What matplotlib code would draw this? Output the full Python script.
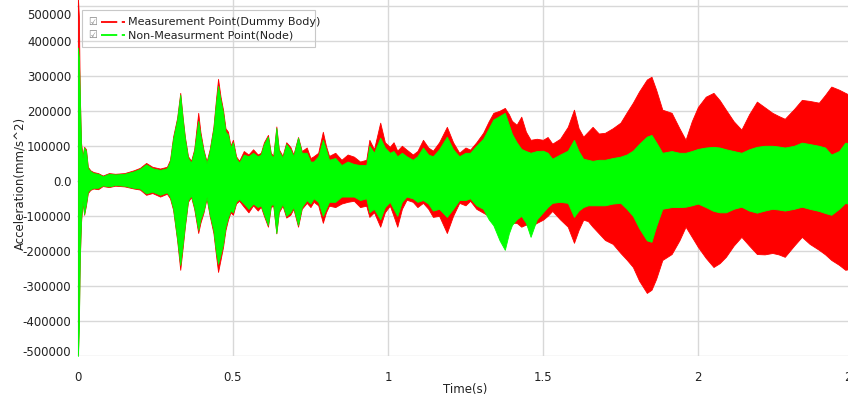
import matplotlib
matplotlib.use("Agg")
import matplotlib.pyplot as plt
import matplotlib.transforms as mtrans
from matplotlib.lines import Line2D
from matplotlib.patches import Rectangle
from matplotlib.ticker import FuncFormatter
import numpy as np

# envelope of the two acceleration traces (1000 mm/s^2)
t_env = [0.000, 0.003, 0.006, 0.010, 0.015, 0.020, 0.026, 0.032, 0.040, 0.050,
         0.065, 0.080, 0.100, 0.120, 0.150, 0.180, 0.200, 0.220, 0.240, 0.265,
         0.287, 0.297, 0.307, 0.320, 0.330, 0.338, 0.345, 0.355, 0.365, 0.375,
         0.388, 0.395, 0.405, 0.415, 0.425, 0.437, 0.445, 0.452, 0.460, 0.468,
         0.476, 0.484, 0.492, 0.500, 0.510, 0.520, 0.535, 0.550, 0.565, 0.580,
         0.590, 0.600, 0.613, 0.622, 0.630, 0.640, 0.648, 0.660, 0.672, 0.685,
         0.695, 0.710, 0.722, 0.738, 0.750, 0.760, 0.775, 0.790, 0.800, 0.810,
         0.830, 0.850, 0.870, 0.890, 0.910, 0.930, 0.940, 0.955, 0.975, 0.990,
         1.006, 1.018, 1.030, 1.045, 1.060, 1.080, 1.095, 1.113, 1.130, 1.145,
         1.165, 1.190, 1.210, 1.230, 1.250, 1.265, 1.285, 1.307, 1.325, 1.340,
         1.360, 1.377, 1.390, 1.400, 1.415, 1.430, 1.445, 1.460, 1.480, 1.500,
         1.515, 1.530, 1.555, 1.580, 1.600, 1.615, 1.630, 1.645, 1.660, 1.680,
         1.700, 1.725, 1.750, 1.770, 1.790, 1.810, 1.835, 1.850, 1.865, 1.885,
         1.915, 1.940, 1.960, 1.980, 2.000, 2.025, 2.050, 2.070, 2.090, 2.115,
         2.140, 2.165, 2.190, 2.215, 2.240, 2.260, 2.280, 2.310, 2.335, 2.360,
         2.390, 2.410, 2.430, 2.455, 2.475, 2.500]

meas_upper = [520, 470, 250, 110, 70, 97, 90, 40, 30, 25,
              22, 15, 22, 20, 22, 30, 37, 51, 40, 35,
              40, 60, 126, 180, 251, 180, 126, 70, 57, 90,
              194, 140, 89, 55, 90, 154, 230, 291, 240, 203,
              150, 140, 100, 117, 70, 57, 85, 75, 90, 75,
              80, 110, 131, 80, 71, 155, 90, 71, 110, 97,
              75, 125, 85, 95, 65, 70, 80, 140, 100, 71,
              80, 60, 75, 69, 55, 60, 117, 90, 166, 110,
              97, 110, 86, 100, 89, 75, 85, 117, 95, 86,
              110, 154, 110, 80, 95, 89, 110, 137, 170, 194,
              200, 208, 190, 171, 160, 183, 140, 117, 120, 117,
              125, 106, 120, 154, 203, 150, 126, 140, 154, 135,
              137, 150, 166, 195, 223, 255, 289, 297, 260, 203,
              194, 150, 117, 170, 211, 240, 251, 230, 203, 170,
              146, 190, 226, 210, 194, 185, 177, 205, 231, 228,
              223, 245, 269, 260, 251, 240]
meas_lower = [-495, -400, -226, -120, -60, -97, -70, -35, -26, -22,
              -24, -15, -18, -14, -16, -22, -25, -40, -35, -45,
              -37, -50, -83, -170, -254, -190, -131, -60, -46, -80,
              -149, -120, -91, -50, -100, -149, -210, -260, -225, -189,
              -140, -111, -90, -97, -65, -57, -74, -90, -70, -85,
              -74, -100, -131, -75, -71, -150, -90, -71, -105, -97,
              -80, -131, -80, -63, -75, -60, -70, -120, -90, -71,
              -75, -65, -60, -57, -75, -71, -103, -90, -131, -90,
              -71, -100, -131, -80, -54, -60, -75, -63, -80, -103,
              -100, -149, -100, -63, -70, -57, -80, -91, -100, -111,
              -150, -170, -140, -120, -120, -131, -125, -131, -120, -111,
              -100, -86, -110, -131, -177, -140, -111, -115, -131, -150,
              -169, -180, -206, -225, -246, -285, -320, -311, -280, -226,
              -209, -170, -131, -160, -189, -220, -246, -235, -217, -185,
              -160, -185, -209, -210, -206, -210, -217, -185, -160, -180,
              -197, -210, -226, -240, -254, -250]

node_upper = [380, 350, 246, 100, 65, 95, 85, 35, 28, 22,
              20, 13, 20, 18, 20, 27, 34, 47, 36, 31,
              36, 55, 120, 175, 246, 175, 120, 65, 52, 85,
              171, 130, 84, 50, 85, 148, 220, 271, 230, 195,
              140, 132, 95, 110, 65, 52, 75, 70, 80, 70,
              75, 105, 126, 75, 66, 151, 85, 66, 105, 90,
              70, 123, 80, 80, 55, 55, 70, 117, 90, 60,
              65, 45, 55, 48, 45, 45, 100, 80, 123, 95,
              80, 85, 70, 80, 70, 60, 70, 95, 75, 70,
              90, 126, 90, 70, 80, 80, 100, 120, 150, 175,
              185, 194, 160, 134, 110, 91, 85, 80, 85, 86,
              80, 63, 75, 86, 117, 85, 63, 60, 57, 60,
              60, 65, 69, 75, 86, 105, 126, 131, 110, 80,
              85, 80, 80, 85, 91, 95, 97, 95, 90, 85,
              80, 90, 97, 100, 100, 98, 95, 100, 109, 105,
              100, 95, 75, 85, 109, 105]
node_lower = [-500, -420, -220, -110, -55, -95, -65, -30, -24, -20,
              -20, -13, -16, -12, -14, -20, -22, -36, -31, -40,
              -33, -45, -78, -165, -240, -180, -125, -55, -42, -75,
              -140, -110, -86, -46, -95, -140, -200, -237, -210, -180,
              -130, -104, -85, -90, -60, -52, -65, -80, -65, -75,
              -70, -95, -126, -70, -66, -149, -85, -66, -100, -90,
              -75, -126, -75, -55, -65, -50, -60, -100, -80, -60,
              -60, -45, -45, -45, -55, -50, -90, -80, -110, -75,
              -60, -80, -100, -60, -45, -50, -60, -55, -65, -85,
              -80, -103, -80, -55, -55, -50, -70, -80, -110, -127,
              -170, -197, -150, -126, -110, -100, -120, -160, -110, -90,
              -75, -63, -60, -63, -103, -85, -75, -70, -70, -70,
              -70, -65, -63, -80, -100, -135, -170, -174, -130, -80,
              -75, -75, -74, -70, -65, -75, -86, -90, -90, -80,
              -74, -85, -91, -85, -80, -82, -85, -80, -74, -80,
              -86, -92, -97, -80, -63, -70]

series_names = ["Measurement Point(Dummy Body)", "Non-Measurment Point(Node)"]
series_colors = ["#ff0000", "#00ff00"]

x_ticks = [0, 0.5, 1, 1.5, 2, 2.5]
y_ticks = np.arange(-500000, 500001, 100000)

W, H = 848, 397
fig = plt.figure(figsize=(W / 100, H / 100), dpi=100)
ax = fig.add_axes([77 / W, 1 - 356 / H, 776 / W, 356 / H])

t = np.array(t_env)
scale = 1000.0
bands = [(meas_lower, meas_upper), (node_lower, node_upper)]
for (lo, up), col in zip(bands, series_colors):
    lo = np.array(lo) * scale
    up = np.array(up) * scale
    ax.fill_between(t, lo, up, color=col, lw=0.6, edgecolor=col, zorder=3)

ax.set_xlim(-0.003, 2.5)
ax.set_ylim(-500000, 516000)
ax.set_xticks(x_ticks)
ax.set_yticks(y_ticks)
ax.xaxis.set_major_formatter(FuncFormatter(lambda v, p: "%g" % v))
ax.yaxis.set_major_formatter(
    FuncFormatter(lambda v, p: "0.0" if abs(v) < 1 else "%d" % v))
ax.tick_params(length=0, labelsize=8.5, colors="#222222")
ax.tick_params(axis="x", pad=11)
ax.tick_params(axis="y", pad=4)
ax.grid(True, color="#d8d8d8", lw=1.0, zorder=0)
for s in ax.spines.values():
    s.set_visible(False)

# the outermost y labels are pushed inside the plot area
fig.canvas.draw()
labels = ax.get_yticklabels()
shift_dn = mtrans.ScaledTranslation(0, -8 / 100, fig.dpi_scale_trans)
shift_up = mtrans.ScaledTranslation(0, 5 / 100, fig.dpi_scale_trans)
labels[-1].set_transform(labels[-1].get_transform() + shift_dn)
labels[0].set_transform(labels[0].get_transform() + shift_up)

fig.text(465 / W, 1 - 389 / H, "Time(s)", ha="center", va="center",
         fontsize=8.5, color="#222222")
fig.text(20 / W, 1 - 183 / H, "Acceleration(mm/s^2)", ha="center",
         va="center", rotation=90, fontsize=8.5, color="#222222")

# legend box with check boxes
fig.patches.append(Rectangle((82 / W, 1 - 47 / H), 233 / W, 37 / H,
                             transform=fig.transFigure, fill=False,
                             edgecolor="#c8c8c8", lw=0.8))
rows_y = [22, 35]
for ry, name, col in zip(rows_y, series_names, series_colors):
    yf = 1 - ry / H
    fig.text(93 / W, yf, "\u2611", ha="center", va="center",
             fontsize=7, color="#808080")
    fig.lines.append(Line2D([101 / W, 125 / W], [yf, yf],
                            transform=fig.transFigure, color=col, lw=1.3,
                            dashes=(9, 2.5)))
    fig.text(128 / W, yf, name, ha="left", va="center", fontsize=8,
             color="#222222")

fig.savefig("out.png", dpi=100)
